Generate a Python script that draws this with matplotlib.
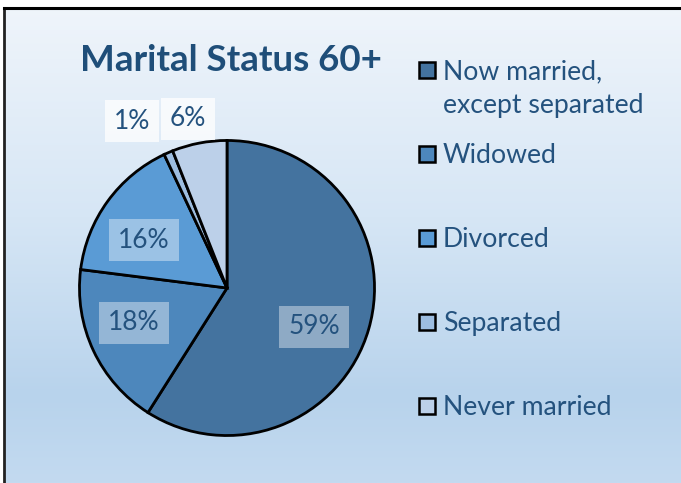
import numpy as np
import matplotlib.pyplot as plt
from matplotlib.patches import Rectangle
from matplotlib.colors import LinearSegmentedColormap

# ----------------- data -----------------
categories = ["Now married,\nexcept separated", "Widowed", "Divorced", "Separated", "Never married"]
shares     = [59, 18, 16, 1, 6]
pct_labels = ["59%", "18%", "16%", "1%", "6%"]
colors     = ["#44739f", "#4d87bc", "#5a9bd5", "#9dbde0", "#bcd0e9"]

TEXT_C = "#24527e"
FONT = ["Lato", "DejaVu Sans"]

W, H = 681, 483
fig = plt.figure(figsize=(W / 100, H / 100), dpi=100)

def fx(px):  # pixel -> figure fraction
    return px / W

def fy(py):
    return 1 - py / H

# ----------------- background gradient + frame -----------------
bg = fig.add_axes([0, 0, 1, 1], zorder=0)
bg.set_axis_off()
grad_cmap = LinearSegmentedColormap.from_list(
    "bg", [(0.0, "#c3daf0"), (0.18, "#b8d3ec"), (0.55, "#d6e6f5"), (1.0, "#f0f5fb")])
bg.imshow(np.linspace(0, 1, 256).reshape(-1, 1), aspect="auto", cmap=grad_cmap,
          extent=[0, 1, 0, 1], origin="lower")
bg.add_patch(Rectangle((0, fy(8)), 1, 8 / H, color="white", zorder=2))
bg.add_patch(Rectangle((0, 0), fx(4), 1, color="white", zorder=2))
bg.plot([fx(4), fx(4)], [0, fy(8)], color="#222222", lw=2, zorder=3)
bg.plot([fx(4), 1], [fy(8), fy(8)], color="black", lw=2.2, zorder=3)
bg.set_xlim(0, 1)
bg.set_ylim(0, 1)

# ----------------- pie -----------------
cx, cy, r = 227, 288, 149
ax = fig.add_axes([fx(cx - r), fy(cy + r), 2 * r / W, 2 * r / H], zorder=1)
wedges, _ = ax.pie(shares, colors=colors, startangle=90, counterclock=False,
                   wedgeprops=dict(edgecolor="black", linewidth=2), radius=1)
ax.set_xlim(-1.01, 1.01)
ax.set_ylim(-1.01, 1.01)
ax.set_aspect("auto")

# percentage labels (pixel positions)
label_pos = [(314, 327), (134, 323), (144, 240), (132, 121), (188, 119)]
box_alpha = [0.4, 0.4, 0.4, 0.75, 0.75]
for (px, py), txt, a in zip(label_pos, pct_labels, box_alpha):
    fig.text(fx(px), fy(py), txt, ha="center", va="center", fontsize=19,
             color=TEXT_C, family=FONT, zorder=5,
             bbox=dict(boxstyle="square,pad=0.33", fc="white", ec="none", alpha=a))

# ----------------- title -----------------
fig.text(fx(231), fy(71), "Marital Status 60+", ha="center", va="baseline",
         fontsize=26.5, fontweight="bold", color="#1f4e79", family=FONT, zorder=5)

# ----------------- legend -----------------
row_base = [79, 163, 247, 331, 415]
for cat, c, yb in zip(categories, colors, row_base):
    fig.patches.append(Rectangle((fx(419), fy(yb - 1)), 16 / W, 16 / H,
                                 transform=fig.transFigure, fc=c, ec="black",
                                 lw=1.8, zorder=5))
    for k, line in enumerate(cat.split("\n")):
        fig.text(fx(443), fy(yb + 34 * k), line, ha="left", va="baseline",
                 fontsize=19.2, color=TEXT_C, family=FONT, zorder=5)

fig.savefig("out.png", dpi=100)
